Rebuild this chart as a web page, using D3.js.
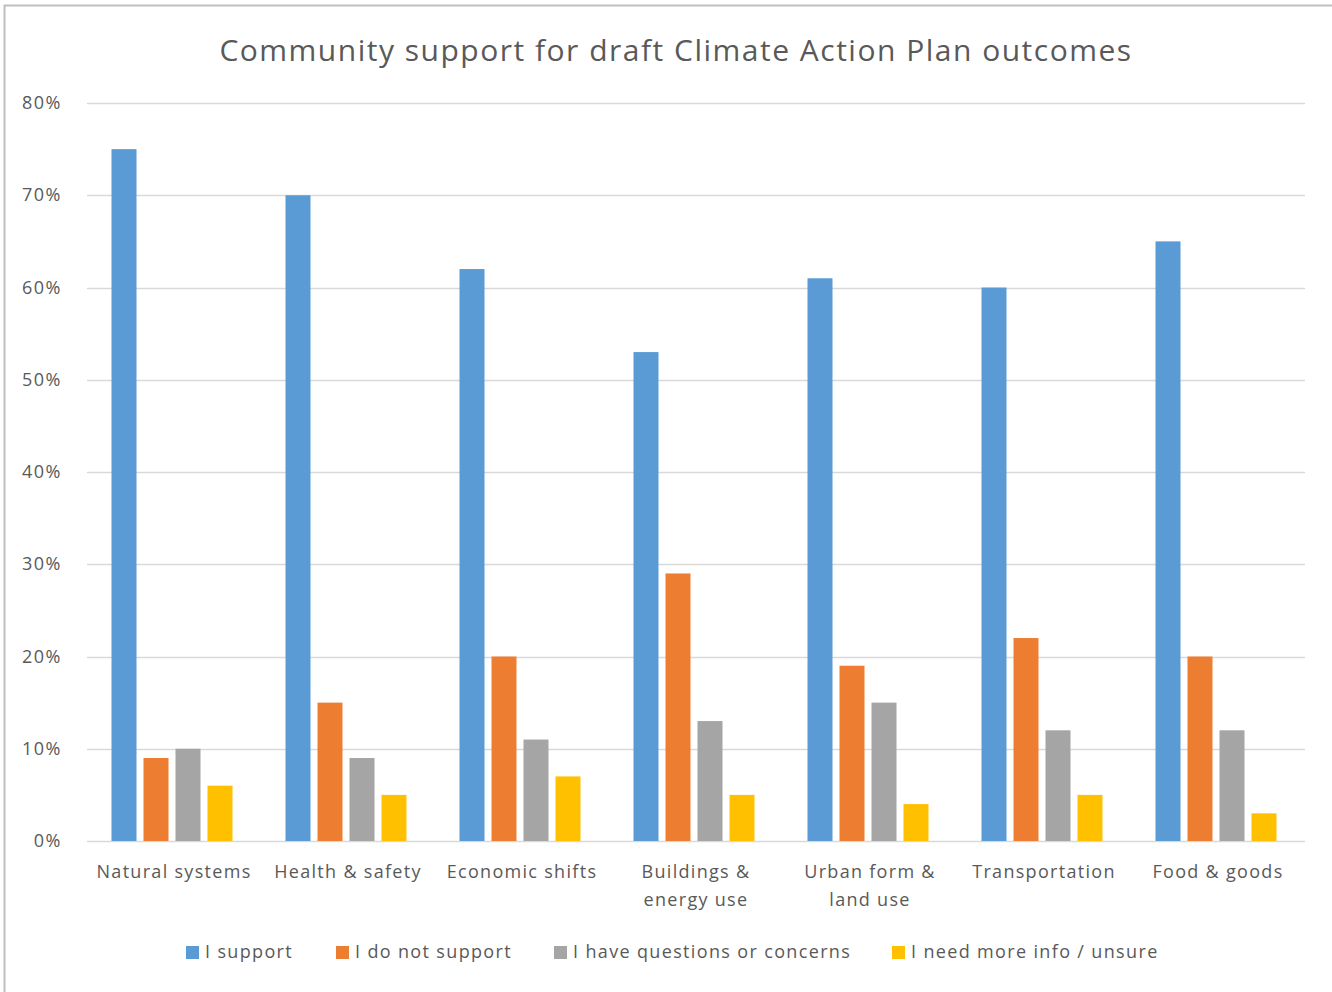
<!DOCTYPE html>
<html><head><meta charset="utf-8">
<script src="https://cdn.jsdelivr.net/npm/d3@7"></script>
<style>body{margin:0;background:#fff;} text{font-family:"Open Sans",sans-serif;}</style>
</head><body>
<svg id="c" width="1332" height="992"></svg>
<script>
const categories = [["Natural systems"],["Health & safety"],["Economic shifts"],["Buildings &","energy use"],["Urban form &","land use"],["Transportation"],["Food & goods"]];
const seriesNames = ["I support","I do not support","I have questions or concerns","I need more info / unsure"];
const support = [75,70,62,53,61,60,65];
const notSupport = [9,15,20,29,19,22,20];
const questions = [10,9,11,13,15,12,12];
const unsure = [6,5,7,5,4,5,3];
const colors = ["#5b9bd5","#ed7d31","#a5a5a5","#ffc000"];
const yTicks = [0,10,20,30,40,50,60,70,80];
const title = "Community support for draft Climate Action Plan outcomes";

const series = [support, notSupport, questions, unsure];
const svg = d3.select("#c");
svg.append("rect").attr("x",4.5).attr("y",5.5).attr("width",1340).attr("height",1000).attr("fill","#fff").attr("stroke","#bfbfbf").attr("stroke-width",2);

const pL=87, pR=1305, pT=103, pB=841;
const x = d3.scaleBand().domain(d3.range(categories.length)).range([pL,pR]).padding(0);
const y = d3.scaleLinear().domain([0,80]).range([pB,pT]);
const barW = 25, step = 32;

svg.append("text").attr("x",676).attr("y",61).attr("text-anchor","middle").attr("font-size",30)
  .attr("letter-spacing",1.5).attr("fill","#595959").text(title);

const g = svg.append("g");
g.selectAll("line.grid").data(yTicks).enter().append("line")
 .attr("x1",pL).attr("x2",pR).attr("y1",d=>Math.round(y(d))+0.5).attr("y2",d=>Math.round(y(d))+0.5)
 .attr("stroke","#d9d9d9").attr("stroke-width",1.5);
g.selectAll("text.yt").data(yTicks).enter().append("text")
 .attr("x",62).attr("y",d=>y(d)+6).attr("text-anchor","end").attr("font-size",18).attr("letter-spacing",1.5).attr("fill","#595959")
 .text(d=>d+"%");

series.forEach((vals,si)=>{
  g.selectAll("rect.s"+si).data(vals).enter().append("rect")
   .attr("x",(d,i)=>x(i)+x.bandwidth()/2 - (4*step-(step-barW))/2 + si*step - 2)
   .attr("width",barW)
   .attr("y",d=>y(d)).attr("height",d=>y(0)-y(d))
   .attr("fill",colors[si]);
});

categories.forEach((lines,i)=>{
  const t = g.append("text").attr("text-anchor","middle").attr("font-size",18).attr("letter-spacing",1.3).attr("fill","#595959");
  lines.forEach((l,j)=>t.append("tspan").attr("x",x(i)+x.bandwidth()/2).attr("y",878+j*28).text(l));
});

const legX = [186,336,554,892];
seriesNames.forEach((n,i)=>{
  svg.append("rect").attr("x",legX[i]).attr("y",946).attr("width",13).attr("height",13).attr("fill",colors[i]);
  svg.append("text").attr("x",legX[i]+19).attr("y",958).attr("font-size",18).attr("letter-spacing",1.35).attr("fill","#595959").text(n);
});
</script>
</body></html>
